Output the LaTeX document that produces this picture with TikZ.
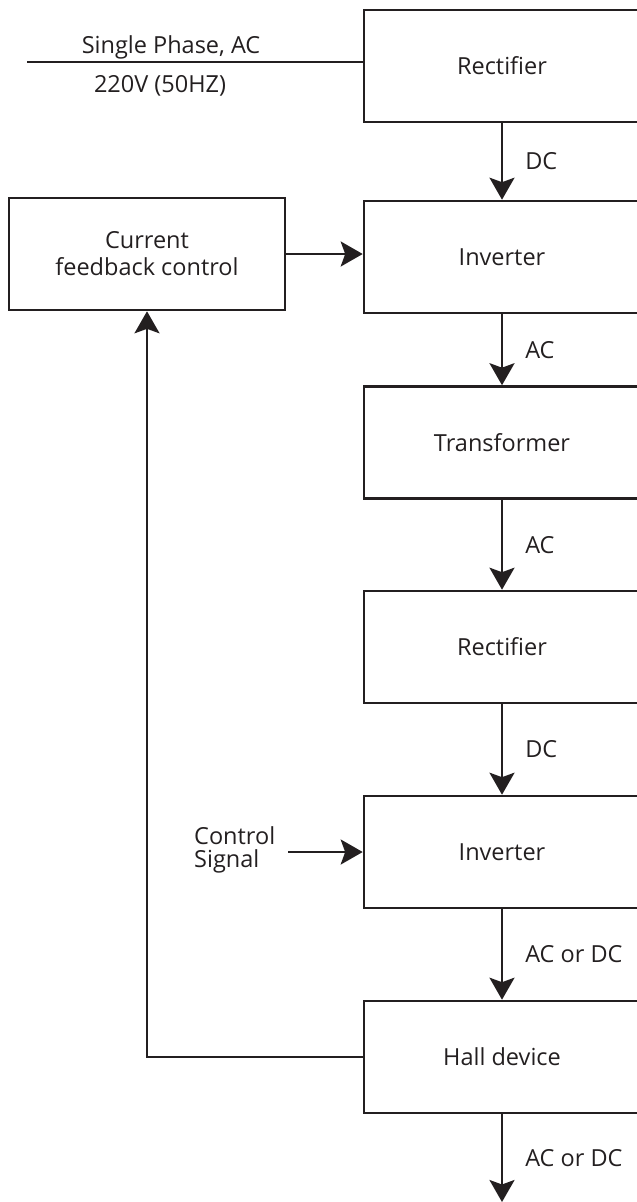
\documentclass[tikz,border=0pt]{standalone}
\usepackage{fontspec}
\setmainfont{Open Sans}
\usetikzlibrary{arrows.meta}
\definecolor{ink}{HTML}{231F20}
\tikzset{
  x=1pt, y=-1pt,
  every node/.style={text=ink, font=\fontsize{23.5}{27}\selectfont},
  blk/.style={draw=ink, line width=2.6pt, minimum width=276pt, minimum height=112pt, inner sep=0pt},
  fbblk/.style={draw=ink, line width=2.6pt, minimum width=276pt, minimum height=112pt, inner sep=0pt, align=center},
  wire/.style={draw=ink, line width=2.6pt},
  flow/.style={wire, -{Stealth[length=22pt, width=25pt, inset=4.5pt]}},
  lbl/.style={anchor=west, inner sep=0pt, xshift=22pt},
}
\begin{document}
\begin{tikzpicture}
\useasboundingbox (0,0) rectangle (637,1202);
\clip (0,0) rectangle (637,1202);

% main power chain
\node[blk] (r1)   at (502,66)    {Rectifier};
\node[blk] (inv1) at (502,257)   {Inverter};
\node[blk] (tr)   at (502,442.5) {Transformer};
\node[blk] (r2)   at (502,647)   {Rectifier};
\node[blk] (inv2) at (502,852)   {Inverter};
\node[blk] (hall) at (502,1057)  {Hall device};

% feedback controller
\node[fbblk] (cfc) at (147,254) {Current\\feedback control};

% mains input
\coordinate (acin) at (27,62);
\draw[wire] (acin) -- (acin -| r1.west);
\node[anchor=base, inner sep=0pt] (ph)  at (171,53) {Single Phase, AC};
\node[anchor=base, inner sep=0pt] (vin) at (160,92) {220V (50HZ)};

% flow between stages
\draw[flow] (r1.south)   -- node[lbl] {DC} (inv1.north);
\draw[flow] (inv1.south) -- node[lbl] {AC} (tr.north);
\draw[flow] (tr.south)   -- node[lbl] {AC} (r2.north);
\draw[flow] (r2.south)   -- node[lbl] {DC} (inv2.north);
\draw[flow] (inv2.south) -- node[lbl] {AC or DC} (hall.north);
\coordinate (out) at (502,1202);
\draw[flow] (hall.south) -- node[lbl] {AC or DC} (out);

% control paths
\draw[flow] (cfc.east) -- (cfc.east -| inv1.west);
\draw[flow] (hall.west) -| (cfc.south);
\node[anchor=west, align=left, inner sep=0pt] (cs) at (194,850) {Control\\[-4pt]Signal};
\coordinate (csout) at (288,852);
\draw[flow] (csout) -- (inv2.west);
\end{tikzpicture}
\end{document}
